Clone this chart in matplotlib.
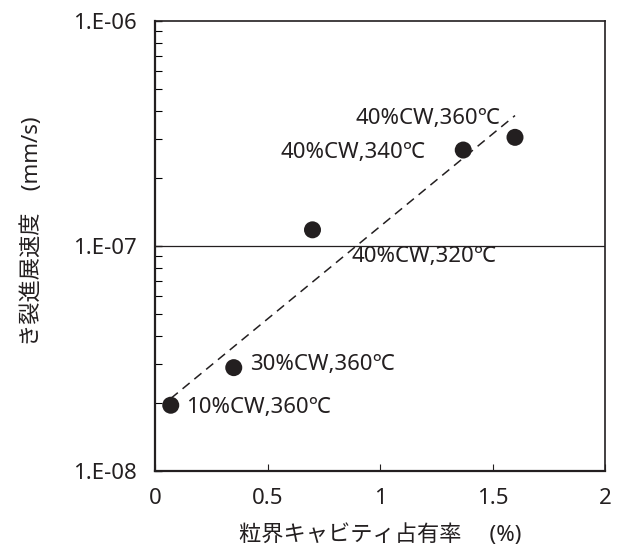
import matplotlib
matplotlib.use("Agg")
import matplotlib.pyplot as plt
from matplotlib.ticker import LogLocator, NullFormatter

plt.rcParams['font.family'] = ['Noto Sans', 'Noto Sans CJK JP', 'DejaVu Sans']

# data
occupancy = [0.07, 0.35, 0.70, 1.37, 1.60]
crack_rate = [1.96e-8, 2.88e-8, 1.18e-7, 2.67e-7, 3.04e-7]
labels = ["10%CW,360℃", "30%CW,360℃", "40%CW,320℃", "40%CW,340℃", "40%CW,360℃"]
fit_x = [0.07, 1.60]
fit_y = [2.1e-8, 3.8e-7]
y_ticks = [1e-8, 1e-7, 1e-6]
y_ticklabels = ["1.E-08", "1.E-07", "1.E-06"]
x_ticks = [0, 0.5, 1, 1.5, 2]
x_ticklabels = ["0", "0.5", "1", "1.5", "2"]

ink = "#231f20"
fs = 16
fig = plt.figure(figsize=(6.19, 5.52), dpi=100)
ax = fig.add_axes([155/619, 1-471/552, 450/619, 450/552])
ax.set_yscale('log')
ax.set_xlim(0, 2)
ax.set_ylim(1e-8, 1e-6)

ax.axhline(1e-7, color=ink, lw=0.9, zorder=1)
ax.plot(fit_x, fit_y, ls=(0, (6, 4)), color=ink, lw=1.1, zorder=2)
ax.scatter(occupancy, crack_rate, s=150, color=ink, zorder=3, edgecolors='none')

# annotation placement (offsets in points, alignment)
offsets = [(11, -1.5), (11.5, 2), (28, -19.4), (-27.4, -1.5), (-10.8, 13.7)]
aligns = ['left', 'left', 'left', 'right', 'right']
for x, y, t, (dx, dy), ha in zip(occupancy, crack_rate, labels, offsets, aligns):
    ax.annotate(t, (x, y), xytext=(dx, dy), textcoords='offset points',
                fontsize=fs, color=ink, va='center', ha=ha)

ax.set_yticks(y_ticks)
ax.set_yticklabels(y_ticklabels)
ax.yaxis.set_minor_locator(LogLocator(base=10, subs=range(2, 10)))
ax.yaxis.set_minor_formatter(NullFormatter())
ax.set_xticks(x_ticks)
ax.set_xticklabels(x_ticklabels)

ax.tick_params(axis='y', which='major', direction='in', length=5, width=1, pad=13,
               labelsize=fs, colors=ink, right=False)
ax.tick_params(axis='y', which='minor', direction='in', length=5, width=0.8, right=False)
ax.tick_params(axis='x', which='major', direction='in', length=5, width=0.8, pad=12,
               labelsize=fs, colors=ink, top=False)

for s in ax.spines.values():
    s.set_color(ink)
    s.set_linewidth(1.6)
ax.spines['top'].set_linewidth(1.2)
ax.spines['right'].set_linewidth(1.2)

ax.set_xlabel("粒界キャビティ占有率　 (%)", fontsize=fs, color=ink, labelpad=11)
ax.set_ylabel("き裂進展速度　(mm/s)", fontsize=fs, color=ink, labelpad=22, y=0.533)

fig.savefig("out.png", dpi=100)
